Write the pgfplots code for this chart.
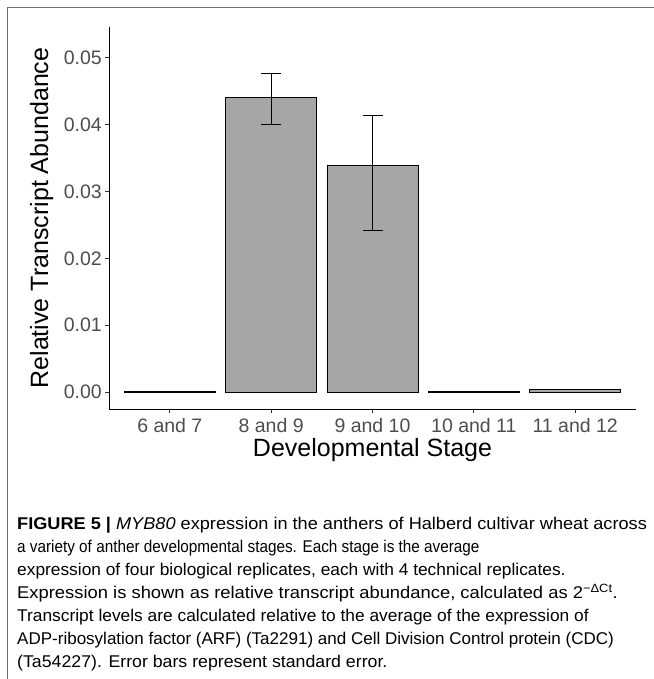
\documentclass[border=0pt]{standalone}
\usepackage{fontspec}
\setmainfont{Liberation Sans}
\usepackage{pgfplots}
\pgfplotsset{compat=1.18}
\definecolor{barfill}{HTML}{A6A6A6}
\definecolor{ticktext}{HTML}{4D4D4D}
\definecolor{tickline}{HTML}{333333}
\definecolor{framegray}{HTML}{707070}
\begin{document}
\begin{tikzpicture}[x=1bp,y=1bp]
\useasboundingbox (0,0) rectangle (654,679);
\draw[framegray, line width=1.5bp] (7.5,0) -- (7.5,671.5) -- (654,671.5);
\begin{axis}[
  at={(109bp,270bp)}, anchor=south west,
  scale only axis, width=527bp, height=382bp,
  xmin=0.4, xmax=5.6, ymin=-0.00254, ymax=0.0546,
  enlargelimits=false,
  axis x line*=bottom, axis y line*=left,
  axis line style={black, line width=0.9bp},
  xtick={1,2,3,4,5},
  xticklabels={6 and 7, 8 and 9, 9 and 10, 10 and 11, 11 and 12},
  ytick={0,0.01,0.02,0.03,0.04,0.05},
  scaled y ticks=false,
  yticklabel style={/pgf/number format/fixed, /pgf/number format/fixed zerofill, /pgf/number format/precision=2},
  /pgf/number format/assume math mode=true,
  ticklabel style={font=\fontsize{19.5bp}{20bp}\selectfont, text=ticktext, inner sep=0pt},
  tick align=outside, major tick length=4bp,
  tick style={tickline, line width=0.9bp},
  yticklabel shift=3bp, xticklabel shift=5bp,
  ybar, bar width=0.9,
]
\addplot[fill=barfill, draw=black, line width=0.8bp,
  error bars/.cd, y dir=both, y explicit,
  error bar style={black, line width=0.8bp},
  error mark options={black, line width=0.8bp, mark size=10bp, rotate=90}]
  table[x=x, y=y, y error plus=ep, y error minus=em] {
  x  y       ep       em
  1  0.0001  0.00002  0.00002
  2  0.0441  0.0035   0.0041
  3  0.0339  0.0075   0.0097
  4  0.0001  0.00002  0.00002
  5  0.0004  0.00005  0.00005
  };
\end{axis}
\node[rotate=90, anchor=base, font=\fontsize{25bp}{28bp}\selectfont] at (48,461) {Relative Transcript Abundance};
\node[anchor=base, font=\fontsize{25bp}{28bp}\selectfont] at (372.5,222) {Developmental Stage};
\begin{scope}[every node/.style={anchor=base west, inner sep=0pt, font=\fontsize{17bp}{20bp}\selectfont}]
\node[xscale=1.068] at (17,149) {\textbf{FIGURE 5 |} \textit{MYB80} expression in the anthers of Halberd cultivar wheat across};
\node[xscale=0.90] at (17,126) {a variety of anther developmental stages. Each stage is the average};
\node[xscale=1.020] at (17,103) {expression of four biological replicates, each with 4 technical replicates.};
\node[xscale=1.081] at (17,80) {Expression is shown as relative transcript abundance, calculated as 2\textsuperscript{−ΔCt}.};
\node[xscale=1.021] at (17,57) {Transcript levels are calculated relative to the average of the expression of};
\node[xscale=1.001] at (17,34) {ADP-ribosylation factor (ARF) (Ta2291) and Cell Division Control protein (CDC)};
\node[xscale=1.043] at (17,11) {(Ta54227). Error bars represent standard error.};
\end{scope}
\end{tikzpicture}
\end{document}
